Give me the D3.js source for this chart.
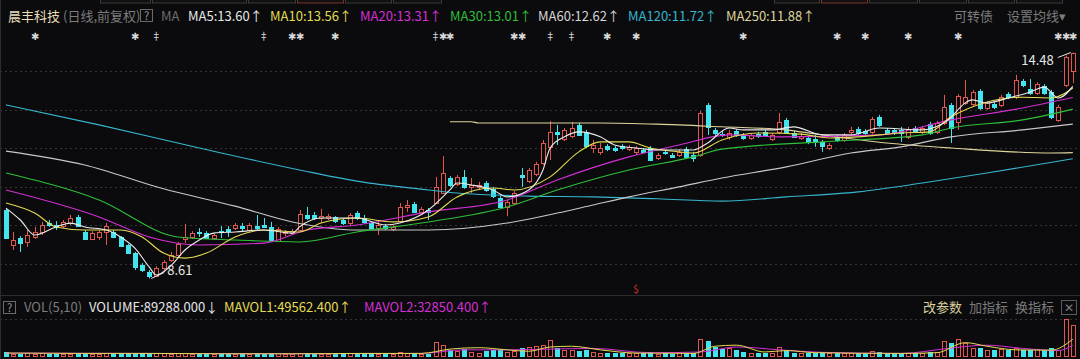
<!DOCTYPE html>
<html>
<head>
<meta charset="utf-8">
<script src="https://cdn.jsdelivr.net/npm/d3@7"></script>
<style>
html, body { margin: 0; padding: 0; background: #0b0b0d; }
svg { display: block; }
text { font-family: "Noto Sans CJK SC", "Noto Sans", sans-serif; }
</style>
</head>
<body>
<div id="chart"></div>
<script>
'use strict';

// daily candles, oldest first
var open = [
    10.39, 9.48, 9.66, 9.56, 9.69, 9.82, 10.05, 10.00, 9.97, 10.05,
    10.21, 9.82, 9.64, 9.69, 9.82, 9.82, 9.69, 9.48, 9.27, 8.96,
    8.78, 8.68, 8.88, 9.09, 9.22, 9.64, 9.69, 9.82, 9.79, 9.66,
    9.84, 9.90, 9.92, 9.97, 9.87, 9.97, 10.00, 9.95, 9.58, 9.79,
    9.79, 9.87, 10.26, 10.26, 10.18, 10.18, 10.21, 10.13, 10.05, 10.31,
    10.18, 10.05, 9.92, 9.97, 9.90, 10.10, 10.47, 10.55, 10.34, 10.39,
    10.57, 10.83, 11.22, 11.06, 11.25, 10.99, 10.99, 11.09, 10.94, 10.70,
    10.47, 10.57, 11.30, 11.14, 11.33, 11.61, 12.03, 12.42, 12.23, 12.31,
    12.60, 12.42, 12.00, 11.90, 12.05, 12.00, 12.05, 11.97, 11.90, 11.95,
    12.00, 11.74, 11.90, 11.82, 11.82, 11.97, 11.82, 11.82, 13.12, 12.47,
    12.36, 12.29, 12.44, 12.34, 12.26, 12.36, 12.42, 12.23, 12.42, 12.73,
    12.39, 12.26, 12.26, 12.23, 12.16, 12.00, 12.29, 12.21, 12.42, 12.49,
    12.44, 12.42, 12.81, 12.47, 12.47, 12.47, 12.29, 12.52, 12.42, 12.62,
    12.42, 12.65, 13.12, 12.68, 13.17, 13.14, 13.48, 13.04, 13.14, 13.12,
    13.40, 13.32, 13.74, 13.53, 13.43, 13.61, 13.45, 12.73, 13.64, 14.00
];
var high = [
    10.44, 9.82, 9.71, 9.87, 9.95, 10.08, 10.13, 10.10, 10.13, 10.26,
    10.26, 9.87, 9.84, 9.87, 10.05, 9.87, 9.71, 9.51, 9.30, 9.01,
    8.83, 8.93, 9.09, 9.30, 9.56, 10.03, 9.84, 9.92, 9.84, 9.79,
    9.97, 9.97, 10.05, 10.05, 10.05, 10.26, 10.18, 10.08, 9.95, 9.87,
    9.90, 10.39, 10.47, 10.34, 10.42, 10.29, 10.23, 10.18, 10.31, 10.36,
    10.26, 10.10, 10.08, 10.03, 10.00, 10.57, 10.65, 10.60, 10.47, 10.44,
    11.25, 11.79, 11.27, 11.30, 11.43, 11.22, 11.12, 11.14, 10.99, 10.75,
    10.65, 10.88, 11.48, 11.48, 11.64, 12.21, 12.70, 12.60, 12.52, 12.68,
    12.65, 12.47, 12.21, 12.13, 12.10, 12.05, 12.10, 12.08, 12.05, 12.00,
    12.05, 11.87, 11.95, 11.87, 11.97, 12.03, 11.90, 12.96, 13.17, 12.52,
    12.44, 12.47, 12.49, 12.39, 12.39, 12.42, 12.47, 12.39, 12.91, 12.78,
    12.44, 12.39, 12.31, 12.34, 12.21, 12.13, 12.34, 12.39, 12.55, 12.55,
    12.49, 12.81, 12.86, 12.52, 12.52, 12.55, 12.55, 12.57, 12.57, 12.68,
    12.70, 13.38, 13.17, 13.40, 13.77, 13.51, 13.53, 13.22, 13.19, 13.38,
    13.45, 13.90, 13.79, 13.79, 13.71, 13.66, 13.51, 13.12, 14.40, 14.48
];
var low = [
    9.64, 9.35, 9.30, 9.43, 9.64, 9.74, 9.95, 9.87, 9.92, 10.00,
    9.95, 9.61, 9.61, 9.61, 9.48, 9.66, 9.43, 9.25, 8.83, 8.78,
    8.61, 8.65, 8.83, 9.04, 9.17, 9.53, 9.64, 9.69, 9.64, 9.61,
    9.66, 9.69, 9.87, 9.82, 9.82, 9.87, 9.92, 9.56, 9.56, 9.71,
    9.74, 9.84, 10.13, 10.13, 10.05, 10.13, 10.05, 10.00, 10.00, 10.13,
    10.03, 9.90, 9.74, 9.87, 9.84, 10.08, 10.34, 10.31, 10.31, 10.13,
    10.55, 10.81, 10.99, 11.01, 10.94, 10.83, 10.91, 10.86, 10.70, 10.44,
    10.23, 10.52, 10.99, 11.09, 11.27, 11.56, 11.69, 12.08, 12.18, 12.26,
    12.31, 12.00, 11.87, 11.82, 11.92, 11.90, 11.95, 11.92, 11.82, 11.87,
    11.66, 11.69, 11.82, 11.74, 11.77, 11.74, 11.64, 11.77, 12.34, 12.31,
    12.29, 12.21, 12.29, 12.21, 12.21, 12.26, 12.29, 12.18, 12.36, 12.39,
    12.26, 12.21, 12.10, 12.03, 11.90, 11.95, 12.16, 12.16, 12.36, 12.34,
    12.34, 12.36, 12.55, 12.34, 12.34, 12.16, 12.23, 12.39, 12.36, 12.34,
    12.36, 12.60, 12.13, 12.47, 13.12, 13.09, 12.99, 12.99, 13.01, 13.06,
    13.27, 13.27, 13.58, 13.38, 13.38, 13.38, 12.75, 12.68, 13.58, 13.69
];
var close = [
    9.66, 9.61, 9.53, 9.74, 9.82, 10.00, 10.00, 9.95, 10.08, 10.18,
    9.97, 9.64, 9.79, 9.82, 9.97, 9.69, 9.46, 9.27, 8.90, 8.83,
    8.68, 8.88, 9.04, 9.22, 9.51, 9.69, 9.79, 9.79, 9.66, 9.74,
    9.82, 9.84, 10.00, 9.92, 10.00, 9.92, 9.95, 9.61, 9.90, 9.82,
    9.84, 10.29, 10.18, 10.18, 10.23, 10.23, 10.10, 10.05, 10.26, 10.18,
    10.08, 9.92, 10.00, 9.92, 9.95, 10.47, 10.52, 10.34, 10.42, 10.34,
    10.99, 11.35, 11.04, 11.25, 10.99, 11.04, 11.04, 10.91, 10.75, 10.47,
    10.60, 10.83, 11.25, 11.43, 11.58, 12.13, 12.42, 12.36, 12.47, 12.52,
    12.34, 12.05, 12.08, 12.00, 11.97, 11.95, 12.00, 12.03, 12.00, 11.90,
    11.69, 11.82, 11.87, 11.77, 11.90, 11.77, 11.74, 12.91, 12.55, 12.39,
    12.34, 12.39, 12.34, 12.26, 12.34, 12.31, 12.34, 12.34, 12.68, 12.42,
    12.29, 12.31, 12.16, 12.18, 12.05, 12.08, 12.21, 12.34, 12.47, 12.39,
    12.39, 12.75, 12.60, 12.39, 12.39, 12.39, 12.49, 12.44, 12.52, 12.39,
    12.65, 13.06, 12.52, 13.35, 13.32, 13.45, 13.04, 13.17, 13.06, 13.32,
    13.32, 13.77, 13.64, 13.43, 13.66, 13.43, 12.81, 13.06, 14.36, 14.47
];
var volume = [
    14000, 9000, 8000, 11000, 9000, 10000, 8000, 7000, 8000, 9000,
    11000, 9000, 8000, 8000, 10000, 9000, 9000, 10000, 12000, 10000,
    9000, 11000, 10000, 9000, 12000, 11000, 8000, 8000, 9000, 8000,
    8000, 9000, 8000, 8000, 9000, 10000, 8000, 11000, 10000, 8000,
    8000, 12000, 10000, 8000, 9000, 8000, 8000, 9000, 10000, 9000,
    9000, 10000, 8000, 8000, 9000, 14000, 10000, 11000, 9000, 9000,
    42000, 34000, 20000, 17000, 22000, 14000, 12000, 17000, 19000, 20000,
    15000, 17000, 26000, 28000, 30000, 34000, 47000, 25000, 20000, 20000,
    17000, 19000, 13000, 11000, 12000, 11000, 12000, 11000, 12000, 10000,
    14000, 9000, 10000, 9000, 13000, 11000, 12000, 50000, 45000, 28000,
    22000, 25000, 20000, 14000, 12000, 10000, 11000, 12000, 28000, 20000,
    11000, 10000, 12000, 11000, 13000, 10000, 12000, 11000, 12000, 10000,
    12000, 16000, 14000, 10000, 9000, 11000, 12000, 10000, 11000, 13000,
    14000, 45000, 39000, 50000, 39000, 25000, 25000, 20000, 19000, 22000,
    19000, 25000, 19000, 19000, 22000, 19000, 25000, 19000, 106000, 89288
];

// moving averages: [day index, value]
var ma5 = [[0,10.44],[2,10.13],[4,9.74],[7,9.95],[9,10.05],[11,9.95],[14,9.87],[16,9.69],[18,9.40],[20,8.91],
    [21,8.70],[23,8.94],[25,9.35],[27,9.61],[29,9.79],[32,9.82],[36,9.87],[40,9.79],[41,9.95],[44,10.18],
    [49,10.18],[53,10.00],[55,10.05],[59,10.39],[62,10.91],[63,11.09],[65,11.04],[68,10.91],[70,10.73],[73,10.91],
    [75,11.43],[76,12.00],[78,12.29],[80,12.42],[83,12.29],[85,12.08],[88,12.00],[91,11.95],[96,11.95],[98,12.13],
    [101,12.52],[103,12.47],[107,12.47],[110,12.55],[114,12.34],[118,12.34],[122,12.52],[128,12.47],[131,12.65],[135,13.25],
    [137,13.17],[140,13.30],[143,13.45],[145,13.58],[147,13.30],[149,13.60]];
var ma10 = [[0,10.57],[4,10.31],[7,9.95],[11,9.87],[16,9.87],[19,9.69],[22,9.27],[25,9.14],[28,9.27],[32,9.69],
    [36,9.87],[41,9.82],[44,10.05],[49,10.18],[54,10.08],[59,10.21],[63,10.73],[68,10.96],[71,10.91],[76,11.25],
    [80,11.90],[83,12.16],[87,12.16],[90,12.00],[94,11.90],[96,11.87],[100,12.21],[105,12.39],[111,12.36],[115,12.26],
    [119,12.29],[125,12.39],[129,12.42],[132,12.81],[142,13.32],[146,13.30],[149,13.56]];
var ma20 = [[0,10.91],[13,10.21],[20,9.69],[27,9.48],[36,9.53],[42,9.87],[49,10.00],[59,10.34],[70,10.65],[77,11.17],
    [87,11.77],[94,12.08],[101,12.34],[108,12.29],[122,12.34],[132,12.73],[142,13.04],[149,13.31]];
var ma30 = [[0,11.35],[13,10.65],[24,9.69],[32,9.61],[41,9.56],[49,9.82],[59,10.08],[70,10.47],[77,10.91],[87,11.43],
    [96,11.77],[100,11.97],[114,12.16],[128,12.34],[132,12.52],[142,12.73],[149,13.01]];
var ma60 = [[0,11.92],[11,11.56],[22,10.94],[32,10.49],[40,10.08],[49,9.87],[59,9.87],[70,10.05],[77,10.31],[82,10.52],
    [87,10.73],[94,10.99],[100,11.22],[109,11.51],[118,11.87],[125,12.03],[132,12.29],[142,12.47],[149,12.62]];
var ma120 = [[0,13.12],[13,12.60],[27,12.00],[41,11.43],[49,11.14],[59,10.91],[63,10.83],[73,10.75],[82,10.73],[91,10.68],
    [100,10.62],[109,10.73],[119,10.86],[128,11.09],[137,11.35],[149,11.72]];
var ma250 = [[62,12.68],[65,12.68],[66,12.65],[83,12.65],[91,12.62],[100,12.55],[109,12.47],[111,12.42],[123,12.13],[132,12.00],
    [146,11.87],[149,11.88]];
var mavol1 = [[0,11000],[10,10000],[20,10000],[30,9000],[40,9000],[50,10000],[58,10000],[62,22000],[66,26000],[70,20000],
    [73,16000],[76,28000],[79,30000],[83,20000],[88,11000],[96,10000],[99,30000],[102,33000],[106,14000],[109,18000],
    [113,12000],[125,10000],[130,12000],[134,40000],[137,30000],[141,20000],[146,19000],[149,49562]];
var mavol2 = [[0,11000],[20,10000],[40,9000],[58,10000],[64,20000],[70,20000],[76,22000],[82,24000],[90,12000],[97,14000],
    [102,28000],[108,20000],[114,13000],[125,10000],[132,25000],[137,33000],[142,24000],[147,18000],[149,32850]];

var priceTicks = [9, 10, 11, 12, 13, 14];
var signals = [[4,'✱'],[18,'✱'],[21,'‡'],[36,'‡'],[40,'✱'],[41,'✱'],[46,'✱'],[60,'‡'],[61,'✱'],[62,'✱'],
    [71,'✱'],[72,'✱'],[76,'‡'],[79,'‡'],[84,'✱'],[88,'✱'],[103,'✱'],[116,'✱'],[120,'✱'],[126,'✱'],
    [133,'✱'],[147,'✱'],[148,'✱'],[149,'✱']];
var sellMark = 88;

var maLegend = [
    {label: 'MA5:13.60↑', color: '#e6e6e6', x: 188},
    {label: 'MA10:13.56↑', color: '#e3dc52', x: 270},
    {label: 'MA20:13.31↑', color: '#d42fd4', x: 360},
    {label: 'MA30:13.01↑', color: '#2fbf3a', x: 450},
    {label: 'MA60:12.62↑', color: '#d6d6d6', x: 538},
    {label: 'MA120:11.72↑', color: '#36b6cf', x: 628},
    {label: 'MA250:11.88↑', color: '#ddd59c', x: 726}
];
var volLegend = [
    {label: 'VOL(5,10)', color: '#7c7c7c', x: 24},
    {label: 'VOLUME:89288.000↓', color: '#e6e6e6', x: 89},
    {label: 'MAVOL1:49562.400↑', color: '#e3dc52', x: 224},
    {label: 'MAVOL2:32850.400↑', color: '#d42fd4', x: 364}
];

var W = 1080, H = 359,
    bg = '#0b0b0d',
    upColor = '#e0574f',
    downColor = '#43e4ee',
    gridColor = '#353535';

var svg = d3.select('#chart').append('svg')
    .attr('width', W)
    .attr('height', H);

svg.append('rect').attr('width', W).attr('height', H).attr('fill', bg);

var x = d3.scaleLinear().domain([0, open.length - 1]).range([6, 1072.8]);
var y = d3.scaleLinear().domain([9, 14]).range([263.5, 71]);
var vy = d3.scaleLinear().domain([0, 106000]).range([357, 319]);
var snap = function (v) { return Math.round(v) + 0.5; };

// tab strip cut off at the top
var tabs = [[100, 152], [152, 248], [248, 297], [297, 345], [345, 393], [393, 443],
    [774, 821], [821, 869], [869, 919], [919, 968], [968, 1016], [1016, 1064]];
svg.append('g').selectAll('rect').data(tabs).enter().append('rect')
    .attr('x', function (d) { return d[0] + 0.5; })
    .attr('y', -6)
    .attr('width', function (d) { return d[1] - d[0] - 2; })
    .attr('height', 9)
    .attr('fill', '#111')
    .attr('stroke', function (d) { return (d[0] === 297 || d[0] === 821) ? '#7a3226' : '#3a3a3a'; });

// grid
svg.append('g').selectAll('line').data(priceTicks).enter().append('line')
    .attr('x1', 0).attr('x2', W)
    .attr('y1', function (d) { return snap(y(d)); })
    .attr('y2', function (d) { return snap(y(d)); })
    .attr('stroke', gridColor)
    .attr('stroke-dasharray', '2,3');

svg.append('line').attr('x1', 0).attr('x2', W).attr('y1', 295.5).attr('y2', 295.5).attr('stroke', '#2c2c2c');
svg.append('line').attr('x1', 0).attr('x2', W).attr('y1', 319.5).attr('y2', 319.5)
    .attr('stroke', gridColor).attr('stroke-dasharray', '2,3');
svg.append('line').attr('x1', 0.5).attr('x2', 0.5).attr('y1', 0).attr('y2', H).attr('stroke', '#2c2c2c');

// candles
var idx = d3.range(open.length);
var candle = svg.append('g').selectAll('g').data(idx).enter().append('g');
var isUp = function (i) { return close[i] >= open[i]; };
var col = function (i) { return isUp(i) ? upColor : downColor; };

candle.append('line')
    .attr('x1', function (i) { return snap(x(i)); })
    .attr('x2', function (i) { return snap(x(i)); })
    .attr('y1', function (i) { return y(high[i]); })
    .attr('y2', function (i) { return y(low[i]); })
    .attr('stroke', col);

candle.append('rect')
    .attr('x', function (i) { return Math.round(x(i)) - 1.5; })
    .attr('y', function (i) { return Math.round(y(Math.max(open[i], close[i]))) + 0.5; })
    .attr('width', 4)
    .attr('height', function (i) { return Math.max(1, Math.round(Math.abs(y(open[i]) - y(close[i])))); })
    .attr('fill', function (i) { return isUp(i) ? bg : downColor; })
    .attr('stroke', col);

// moving averages
var line = d3.line()
    .x(function (d) { return x(d[0]); })
    .y(function (d) { return y(d[1]); })
    .curve(d3.curveMonotoneX);

var maSeries = [
    {data: ma250, color: '#ddd59c'},
    {data: ma120, color: '#36b6cf'},
    {data: ma60, color: '#c8c8c8'},
    {data: ma30, color: '#2fbf3a'},
    {data: ma20, color: '#d42fd4'},
    {data: ma10, color: '#e3dc52'},
    {data: ma5, color: '#ececec'}
];
svg.append('g').selectAll('path').data(maSeries).enter().append('path')
    .attr('d', function (d) { return line(d.data); })
    .attr('fill', 'none')
    .attr('stroke', function (d) { return d.color; })
    .attr('stroke-width', 1.1);

// high / low annotations
function annotate (i, value, above) {
    var px = x(i), py = y(value);
    var g = svg.append('g').attr('fill', '#e6e6e6').attr('stroke', '#e6e6e6');
    if (above) {
        g.append('line').attr('x1', px - 15).attr('y1', py + 5).attr('x2', px - 2).attr('y2', py);
        g.append('text').attr('x', px - 19).attr('y', py + 12).attr('text-anchor', 'end')
            .attr('stroke', 'none').attr('font-size', 13).text(value.toFixed(2));
    } else {
        g.append('line').attr('x1', px + 2).attr('y1', py).attr('x2', px + 15).attr('y2', py - 6);
        g.append('text').attr('x', px + 18).attr('y', py - 4)
            .attr('stroke', 'none').attr('font-size', 13).text(value.toFixed(2));
    }
}
annotate(high.indexOf(d3.max(high)), d3.max(high), true);
annotate(low.indexOf(d3.min(low)), d3.min(low), false);

// signal row
svg.append('g').selectAll('text').data(signals).enter().append('text')
    .attr('x', function (d) { return x(d[0]); })
    .attr('y', 40)
    .attr('text-anchor', 'middle')
    .attr('font-family', 'DejaVu Sans')
    .attr('font-size', 10)
    .attr('fill', '#d8d8d8')
    .text(function (d) { return d[1]; });

svg.append('text')
    .attr('x', x(sellMark)).attr('y', 293)
    .attr('text-anchor', 'middle')
    .attr('font-family', 'DejaVu Sans')
    .attr('font-size', 10)
    .attr('fill', '#d8332a')
    .text('$');

// volume
var vbar = svg.append('g').selectAll('rect').data(idx).enter().append('rect')
    .attr('x', function (i) { return Math.round(x(i)) - 1.5; })
    .attr('y', function (i) { return Math.round(vy(volume[i])) + 0.5; })
    .attr('width', 4)
    .attr('height', function (i) { return Math.max(1, Math.round(vy(0) - vy(volume[i])) - 1); })
    .attr('fill', function (i) { return isUp(i) ? bg : downColor; })
    .attr('stroke', col);

var vline = d3.line()
    .x(function (d) { return x(d[0]); })
    .y(function (d) { return vy(d[1]); })
    .curve(d3.curveMonotoneX);

svg.append('g').selectAll('path').data([{data: mavol2, color: '#d42fd4'}, {data: mavol1, color: '#e3dc52'}])
    .enter().append('path')
    .attr('d', function (d) { return vline(d.data); })
    .attr('fill', 'none')
    .attr('stroke', function (d) { return d.color; })
    .attr('stroke-width', 1);

// header texts
function helpBox (bx, by) {
    svg.append('rect').attr('x', bx + 0.5).attr('y', by + 0.5).attr('width', 12).attr('height', 12)
        .attr('fill', 'none').attr('stroke', '#6a6a6a');
    svg.append('text').attr('x', bx + 6.5).attr('y', by + 10.5).attr('text-anchor', 'middle')
        .attr('font-size', 11).attr('fill', '#9a9a9a').text('?');
}

var head = svg.append('g').attr('font-size', 13);
head.append('text').attr('x', 8).attr('y', 21).attr('fill', '#e8dfb8').text('晨丰科技');
head.append('text').attr('x', 63).attr('y', 21).attr('fill', '#7c7c7c').text('(日线,前复权)');
helpBox(140, 9);
head.append('text').attr('x', 161).attr('y', 21).attr('fill', '#6c6c6c').text('MA');
head.selectAll('text.ma').data(maLegend).enter().append('text')
    .attr('class', 'ma')
    .attr('x', function (d) { return d.x; })
    .attr('y', 21)
    .attr('fill', function (d) { return d.color; })
    .text(function (d) { return d.label; });
head.append('text').attr('x', 954).attr('y', 21).attr('fill', '#7c7c7c').text('可转债');
head.append('text').attr('x', 1007).attr('y', 21).attr('fill', '#7c7c7c').text('设置均线▾');

var vhead = svg.append('g').attr('font-size', 13);
helpBox(3, 301);
vhead.selectAll('text.vl').data(volLegend).enter().append('text')
    .attr('class', 'vl')
    .attr('x', function (d) { return d.x; })
    .attr('y', 312)
    .attr('fill', function (d) { return d.color; })
    .text(function (d) { return d.label; });
vhead.append('text').attr('x', 923).attr('y', 312).attr('fill', '#d8cf9c').text('改参数');
vhead.append('text').attr('x', 969).attr('y', 312).attr('fill', '#7c7c7c').text('加指标');
vhead.append('text').attr('x', 1015).attr('y', 312).attr('fill', '#7c7c7c').text('换指标');
svg.append('rect').attr('x', 1061.5).attr('y', 300.5).attr('width', 15).attr('height', 14)
    .attr('fill', 'none').attr('stroke', '#5a5a5a');
svg.append('text').attr('x', 1069).attr('y', 312).attr('text-anchor', 'middle')
    .attr('font-size', 12).attr('fill', '#7c7c7c').text('✕');
</script>
</body>
</html>
